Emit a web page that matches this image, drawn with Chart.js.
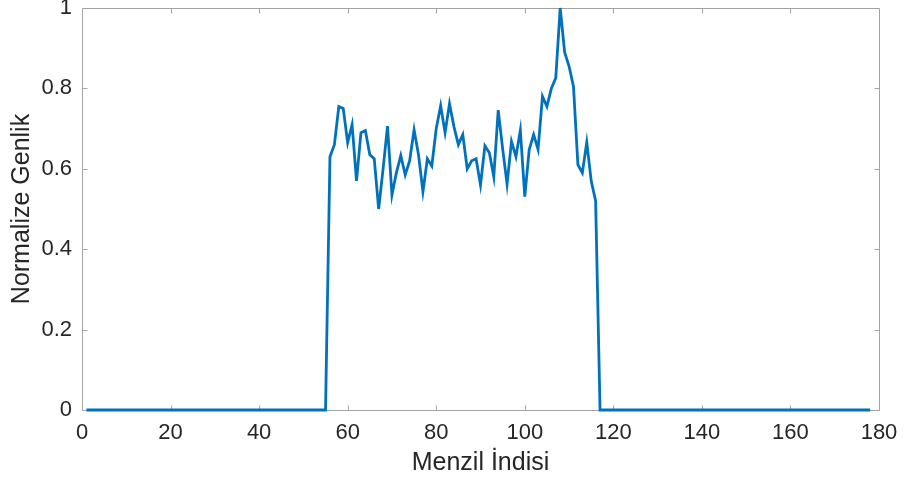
<!DOCTYPE html>
<html>
<head>
<meta charset="utf-8">
<script src="https://cdn.jsdelivr.net/npm/chart.js@4.4.1/dist/chart.umd.min.js"></script>
<style>
html,body{margin:0;padding:0;background:#ffffff;}
#wrap{width:904px;height:483px;position:relative;}
</style>
</head>
<body>
<div id="wrap"><canvas id="c" width="904" height="483"></canvas></div>
<script>
// Normalized amplitude for range index 1..178
const amplitude = [
  0,0,0,0,0,0,0,0,0,0,
  0,0,0,0,0,0,0,0,0,0,
  0,0,0,0,0,0,0,0,0,0,
  0,0,0,0,0,0,0,0,0,0,
  0,0,0,0,0,0,0,0,0,0,
  0,0,0,0,0,
  0.63,0.66,0.755,0.75,0.665,0.71,0.57,0.69,0.695,0.635,
  0.625,0.50,0.60,0.706,0.535,0.59,0.633,0.585,0.62,0.697,
  0.635,0.543,0.625,0.607,0.70,0.757,0.69,0.762,0.705,0.66,
  0.685,0.60,0.62,0.625,0.56,0.657,0.64,0.58,0.746,0.65,
  0.562,0.668,0.63,0.696,0.531,0.648,0.685,0.648,0.78,0.755,
  0.80,0.826,1.0,0.89,0.855,0.805,0.61,0.59,0.666,0.57,
  0.52,
  0,0,0,0,0,0,0,0,0,0,
  0,0,0,0,0,0,0,0,0,0,
  0,0,0,0,0,0,0,0,0,0,
  0,0,0,0,0,0,0,0,0,0,
  0,0,0,0,0,0,0,0,0,0,
  0,0,0,0,0,0,0,0,0,0,
  0,0
];
const rangeIndex = amplitude.map((_, i) => i + 1);
const xTicks = [0, 20, 40, 60, 80, 100, 120, 140, 160, 180];
const yTicks = [0, 0.2, 0.4, 0.6, 0.8, 1];
const yTickLabels = ['0', '0.2', '0.4', '0.6', '0.8', '1'];
const xTitle = 'Menzil İndisi';
const yTitle = 'Normalize Genlik';

const points = rangeIndex.map((x, i) => ({x: x, y: amplitude[i]}));

const FONT = "'Liberation Sans', Arial, Helvetica, sans-serif";
const TEXT = '#262626';
const AXIS = '#a3a3a3';
const TICKLEN = 5;

const framePlugin = {
  id: 'frame',
  beforeDatasetsDraw(chart) {
    const {ctx, chartArea: a, scales: {x, y}} = chart;
    ctx.save();
    ctx.strokeStyle = AXIS;
    ctx.lineWidth = 1;
    ctx.beginPath();
    ctx.rect(a.left + 0.5, a.top + 0.5, a.right - a.left, a.bottom - a.top);
    xTicks.forEach(v => {
      const px = Math.round(x.getPixelForValue(v)) + 0.5;
      if (v === xTicks[0] || v === xTicks[xTicks.length - 1]) return;
      ctx.moveTo(px, a.bottom + 0.5); ctx.lineTo(px, a.bottom + 0.5 - TICKLEN);
      ctx.moveTo(px, a.top + 0.5); ctx.lineTo(px, a.top + 0.5 + TICKLEN);
    });
    yTicks.forEach(v => {
      const py = Math.round(y.getPixelForValue(v)) + 0.5;
      if (v === yTicks[0] || v === yTicks[yTicks.length - 1]) return;
      ctx.moveTo(a.left + 0.5, py); ctx.lineTo(a.left + 0.5 + TICKLEN, py);
      ctx.moveTo(a.right + 0.5, py); ctx.lineTo(a.right + 0.5 - TICKLEN, py);
    });
    ctx.stroke();
    ctx.restore();
  }
};

new Chart(document.getElementById('c'), {
  type: 'line',
  data: {
    datasets: [{
      data: points,
      borderColor: '#0072BD',
      borderWidth: 2.8,
      pointRadius: 0,
      tension: 0,
      fill: false,
      clip: false
    }]
  },
  options: {
    responsive: false,
    animation: false,
    devicePixelRatio: 1,
    layout: {padding: {top: 8, right: 25, left: 0, bottom: 0}},
    plugins: {legend: {display: false}, tooltip: {enabled: false}},
    scales: {
      x: {
        type: 'linear',
        min: 0, max: 180,
        afterBuildTicks: s => { s.ticks = xTicks.map(v => ({value: v})); },
        afterFit: s => { s.height = 73; s.paddingLeft = 0; s.paddingRight = 0; },
        grid: {display: false, drawTicks: false},
        border: {display: false},
        ticks: {color: TEXT, font: {family: FONT, size: 22}, padding: 10, maxRotation: 0, autoSkip: false,
                callback: v => String(v)},
        title: {display: true, text: xTitle, color: TEXT, font: {family: FONT, size: 25}, padding: {top: 0, bottom: 5}}
      },
      y: {
        type: 'linear',
        min: 0, max: 1,
        afterBuildTicks: s => { s.ticks = yTicks.map(v => ({value: v})); },
        afterFit: s => { s.width = 82; s.paddingTop = 0; s.paddingBottom = 0; },
        grid: {display: false, drawTicks: false},
        border: {display: false},
        ticks: {color: TEXT, font: {family: FONT, size: 22}, padding: 10, autoSkip: false,
                callback: (v, i) => yTickLabels[yTicks.indexOf(v)] ?? String(v)},
        title: {display: true, text: yTitle, color: TEXT, font: {family: FONT, size: 25}, padding: {top: 7, bottom: 0}}
      }
    }
  },
  plugins: [framePlugin]
});
</script>
</body>
</html>
